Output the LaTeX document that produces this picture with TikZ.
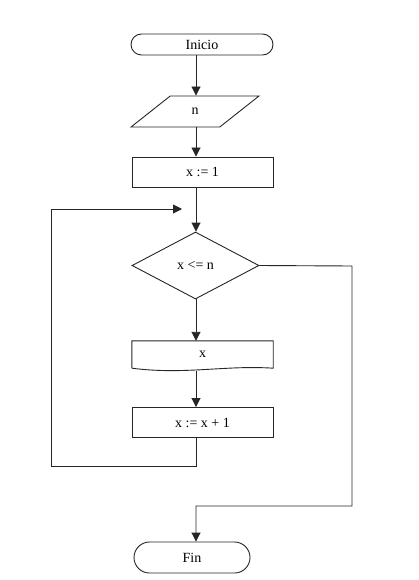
\documentclass[tikz,border=0pt]{standalone}
\usepackage{fontspec}
\setmainfont{Liberation Serif}
\usetikzlibrary{shapes.geometric,arrows.meta}
\begin{document}
\begin{tikzpicture}[x=1pt,y=-1pt,
  line/.style={draw=black!85,line width=0.9pt},
  arr/.style={line,-{Triangle[width=9pt,length=9pt]}},
  lbl/.style={font=\fontsize{14}{16}\selectfont,inner sep=0pt},
  term/.style={lbl,line,rounded corners=#1},
  proc/.style={lbl,line,minimum width=141pt,minimum height=30pt}]
\useasboundingbox (0,0) rectangle (418,580);
\fill[white] (0,0) rectangle (418,580);
\coordinate (ax) at (196,0);
% nodes
\node[term=10.5pt,minimum width=142pt,minimum height=21pt] (inicio) at (202,44.5) {Inicio};
\node[lbl,trapezium,trapezium left angle=50,trapezium right angle=130,line,
      minimum height=31pt,trapezium stretches=true,minimum width=128pt] (n) at (195,111.5) {n};
\node[proc] (x1) at (202.5,172) {x := 1};
\node[lbl,diamond,line,aspect=1.9,minimum width=127pt,minimum height=67pt] (cond) at (195.5,265.5) {x <= n};
\node[lbl,minimum width=141pt,minimum height=27pt] (out) at (202.5,354.5) {x};
\draw[line] (out.south west) -- (out.north west) -- (out.north east) -- (out.south east)
  .. controls (225,365) and (185,375) .. (out.south west);
\node[proc] (inc) at (202.5,422.5) {x := x + 1};
\node[term=15.5pt,minimum width=116pt,minimum height=31pt] (fin) at (192,557.5) {Fin};
% coordinates
\coordinate (loopA) at (196,466);
\coordinate (loopB) at (51,466);
\coordinate (loopC) at (51,209);
\coordinate (loopEnd) at (182,209);
\coordinate (rA) at (352,266);
\coordinate (rB) at (352,506);
\coordinate (rC) at (196,506);
% connectors
\draw[arr] (inicio.south -| ax) -- (n.north -| ax);
\draw[arr] (n.south -| ax) -- (x1.north -| ax);
\draw[arr] (x1.south -| ax) -- (cond.north -| ax);
\draw[arr] (cond.south -| ax) -- (out.north -| ax);
\draw[arr] ([yshift=-3pt]out.south -| ax) -- (inc.north -| ax);
\draw[arr] (inc.south -| ax) -- (loopA) -- (loopB) -- (loopC) -- (loopEnd);
\draw[arr] (cond.east) -- (rA) -- (rB) -- (rC) -- (fin.north -| ax);
\end{tikzpicture}
\end{document}
